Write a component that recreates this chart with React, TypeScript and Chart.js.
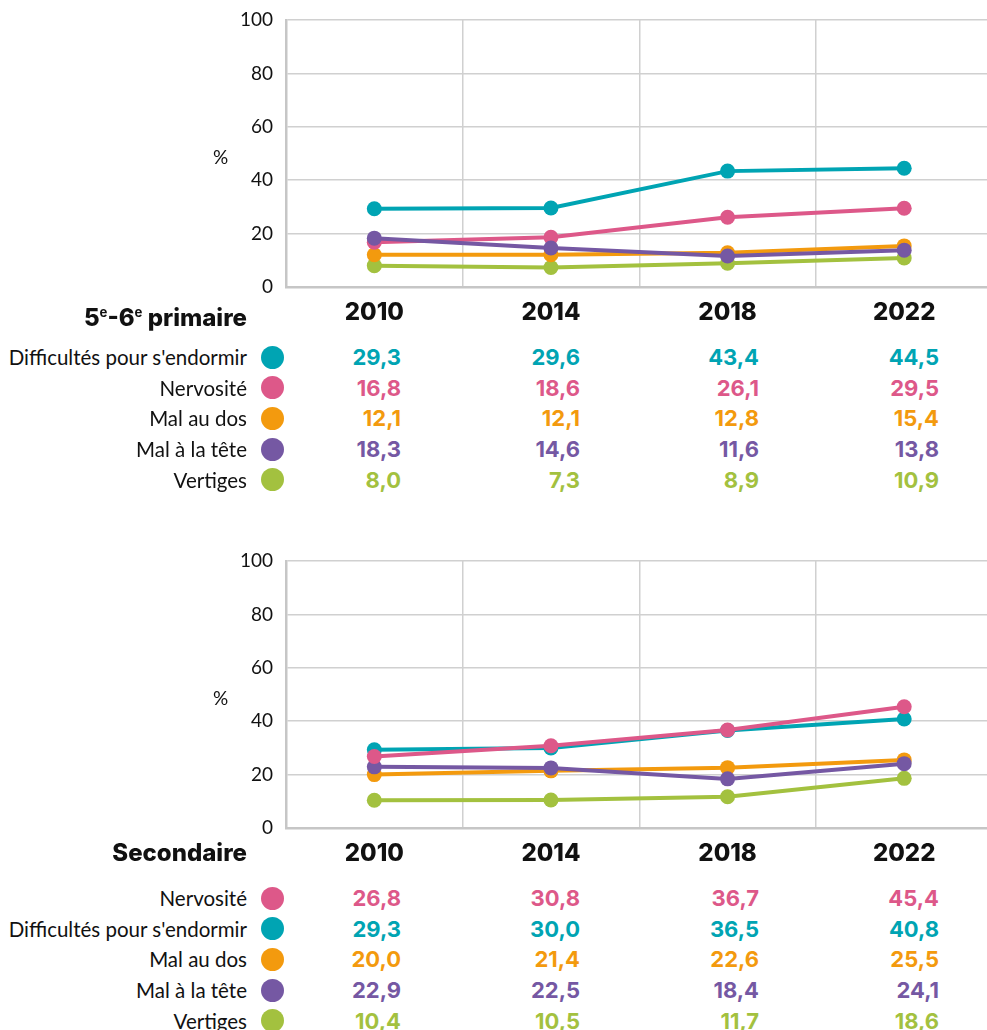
import React, { useEffect, useRef } from "react";
import { Chart, registerables } from "chart.js";

Chart.register(...registerables);

const years = ["2010", "2014", "2018", "2022"];
const yTicks = [0, 20, 40, 60, 80, 100];

// 5e-6e primaire
const primDifficultes = [29.3, 29.6, 43.4, 44.5];
const primNervosite = [16.8, 18.6, 26.1, 29.5];
const primDos = [12.1, 12.1, 12.8, 15.4];
const primTete = [18.3, 14.6, 11.6, 13.8];
const primVertiges = [8.0, 7.3, 8.9, 10.9];

// Secondaire
const secNervosite = [26.8, 30.8, 36.7, 45.4];
const secDifficultes = [29.3, 30.0, 36.5, 40.8];
const secDos = [20.0, 21.4, 22.6, 25.5];
const secTete = [22.9, 22.5, 18.4, 24.1];
const secVertiges = [10.4, 10.5, 11.7, 18.6];

const C_CYAN = "#00a4b3";
const C_PINK = "#dd5889";
const C_ORANGE = "#f39a0e";
const C_PURPLE = "#7558a3";
const C_GREEN = "#a3c13f";

type Row = { label: string; color: string; values: number[]; order: number };

const primRows: Row[] = [
  { label: "Difficultés pour s'endormir", color: C_CYAN, values: primDifficultes, order: 0 },
  { label: "Nervosité", color: C_PINK, values: primNervosite, order: 2 },
  { label: "Mal au dos", color: C_ORANGE, values: primDos, order: 3 },
  { label: "Mal à la tête", color: C_PURPLE, values: primTete, order: 1 },
  { label: "Vertiges", color: C_GREEN, values: primVertiges, order: 4 },
];

const secRows: Row[] = [
  { label: "Nervosité", color: C_PINK, values: secNervosite, order: 0 },
  { label: "Difficultés pour s'endormir", color: C_CYAN, values: secDifficultes, order: 1 },
  { label: "Mal au dos", color: C_ORANGE, values: secDos, order: 3 },
  { label: "Mal à la tête", color: C_PURPLE, values: secTete, order: 2 },
  { label: "Vertiges", color: C_GREEN, values: secVertiges, order: 4 },
];

const fmt = (v: number) => v.toFixed(1).replace(".", ",");

const REG_FONT = "Lato, 'Open Sans', sans-serif";
const BOLD_FONT = "Inter, 'Noto Sans', sans-serif";

function LineBlock({ top, title, rows }: { top: number; title: React.ReactNode; rows: Row[] }) {
  const ref = useRef<HTMLCanvasElement | null>(null);

  useEffect(() => {
    if (!ref.current) return;
    const chart = new Chart(ref.current, {
      type: "line",
      data: {
        labels: years,
        datasets: rows.map((r) => ({
          label: r.label,
          data: r.values,
          borderColor: r.color,
          backgroundColor: r.color,
          pointBackgroundColor: r.color,
          pointBorderWidth: 0,
          pointRadius: 7.5,
          borderWidth: 4,
          tension: 0,
          order: r.order,
        })),
      },
      options: {
        animation: false,
        responsive: false,
        devicePixelRatio: 1,
        layout: { padding: { top: 20, right: 2, left: 0, bottom: 0 } },
        plugins: { legend: { display: false }, tooltip: { enabled: false } },
        scales: {
          x: {
            type: "category",
            offset: true,
            grid: { offset: true, color: "#d0d0d0", lineWidth: 1.5, drawTicks: false },
            border: { color: "#c6c6c6", width: 2.5 },
            ticks: {
              padding: 11,
              color: "#111",
              font: { family: BOLD_FONT, size: 24, weight: "800" },
            },
            afterFit: (s: any) => {
              s.height = 43;
              s.paddingLeft = 0;
              s.paddingRight = 0;
            },
          },
          y: {
            min: 0,
            max: 100,
            afterBuildTicks: (s: any) => {
              s.ticks = yTicks.map((v) => ({ value: v }));
            },
            grid: { color: "#d0d0d0", lineWidth: 1.5, drawTicks: false },
            border: { color: "#c6c6c6", width: 2.5 },
            ticks: {
              padding: 13,
              color: "#111",
              font: { family: REG_FONT, size: 19 },
            },
            afterFit: (s: any) => {
              s.width = 286;
              s.paddingTop = 0;
              s.paddingBottom = 0;
            },
          },
        },
      },
    } as any);
    return () => chart.destroy();
  }, [rows]);

  const colRight = [401, 580, 759, 939];

  return (
    <div style={{ position: "absolute", left: 0, top, width: 987, height: 500 }}>
      <canvas ref={ref} width={1000} height={330} style={{ position: "absolute", left: 0, top: 0, width: 1000, height: 330 }} />
      <div
        style={{
          position: "absolute",
          left: 213,
          top: 157 - 12,
          height: 24,
          lineHeight: "24px",
          fontFamily: REG_FONT,
          fontSize: 19,
          color: "#111",
        }}
      >
        %
      </div>
      <div
        style={{
          position: "absolute",
          right: 987 - 247,
          top: 312 - 15,
          height: 30,
          lineHeight: "30px",
          fontFamily: BOLD_FONT,
          fontWeight: 800,
          fontSize: 24,
          color: "#111",
          whiteSpace: "nowrap",
        }}
      >
        {title}
      </div>
      {rows.map((r, i) => {
        const cy = 357 + i * 30.7;
        return (
          <React.Fragment key={r.label}>
            <div
              style={{
                position: "absolute",
                right: 987 - 247,
                top: cy - 13,
                height: 26,
                lineHeight: "26px",
                fontFamily: REG_FONT,
                fontSize: 20.5,
                color: "#111",
                whiteSpace: "nowrap",
              }}
            >
              {r.label}
            </div>
            <div
              style={{
                position: "absolute",
                left: 272 - 11.5,
                top: cy - 11.5,
                width: 23,
                height: 23,
                borderRadius: "50%",
                background: r.color,
              }}
            />
            {r.values.map((v, j) => (
              <div
                key={j}
                style={{
                  position: "absolute",
                  right: 987 - colRight[j],
                  top: cy - 13,
                  height: 26,
                  lineHeight: "26px",
                  fontFamily: BOLD_FONT,
                  fontWeight: 700,
                  fontSize: 22,
                  color: r.color,
                  whiteSpace: "nowrap",
                }}
              >
                {fmt(v)}
              </div>
            ))}
          </React.Fragment>
        );
      })}
    </div>
  );
}

const supStyle: React.CSSProperties = { fontSize: "0.55em", verticalAlign: "0.7em", fontWeight: 700 };

export default function App() {
  return (
    <div
      style={{
        position: "absolute",
        left: 0,
        top: 0,
        width: 987,
        height: 1030,
        overflow: "hidden",
        background: "#fff",
      }}
    >
      <LineBlock
        top={0}
        rows={primRows}
        title={
          <span>
            5<span style={supStyle}>e</span>-6<span style={supStyle}>e</span> primaire
          </span>
        }
      />
      <LineBlock top={541} rows={secRows} title={<span>Secondaire</span>} />
    </div>
  );
}
